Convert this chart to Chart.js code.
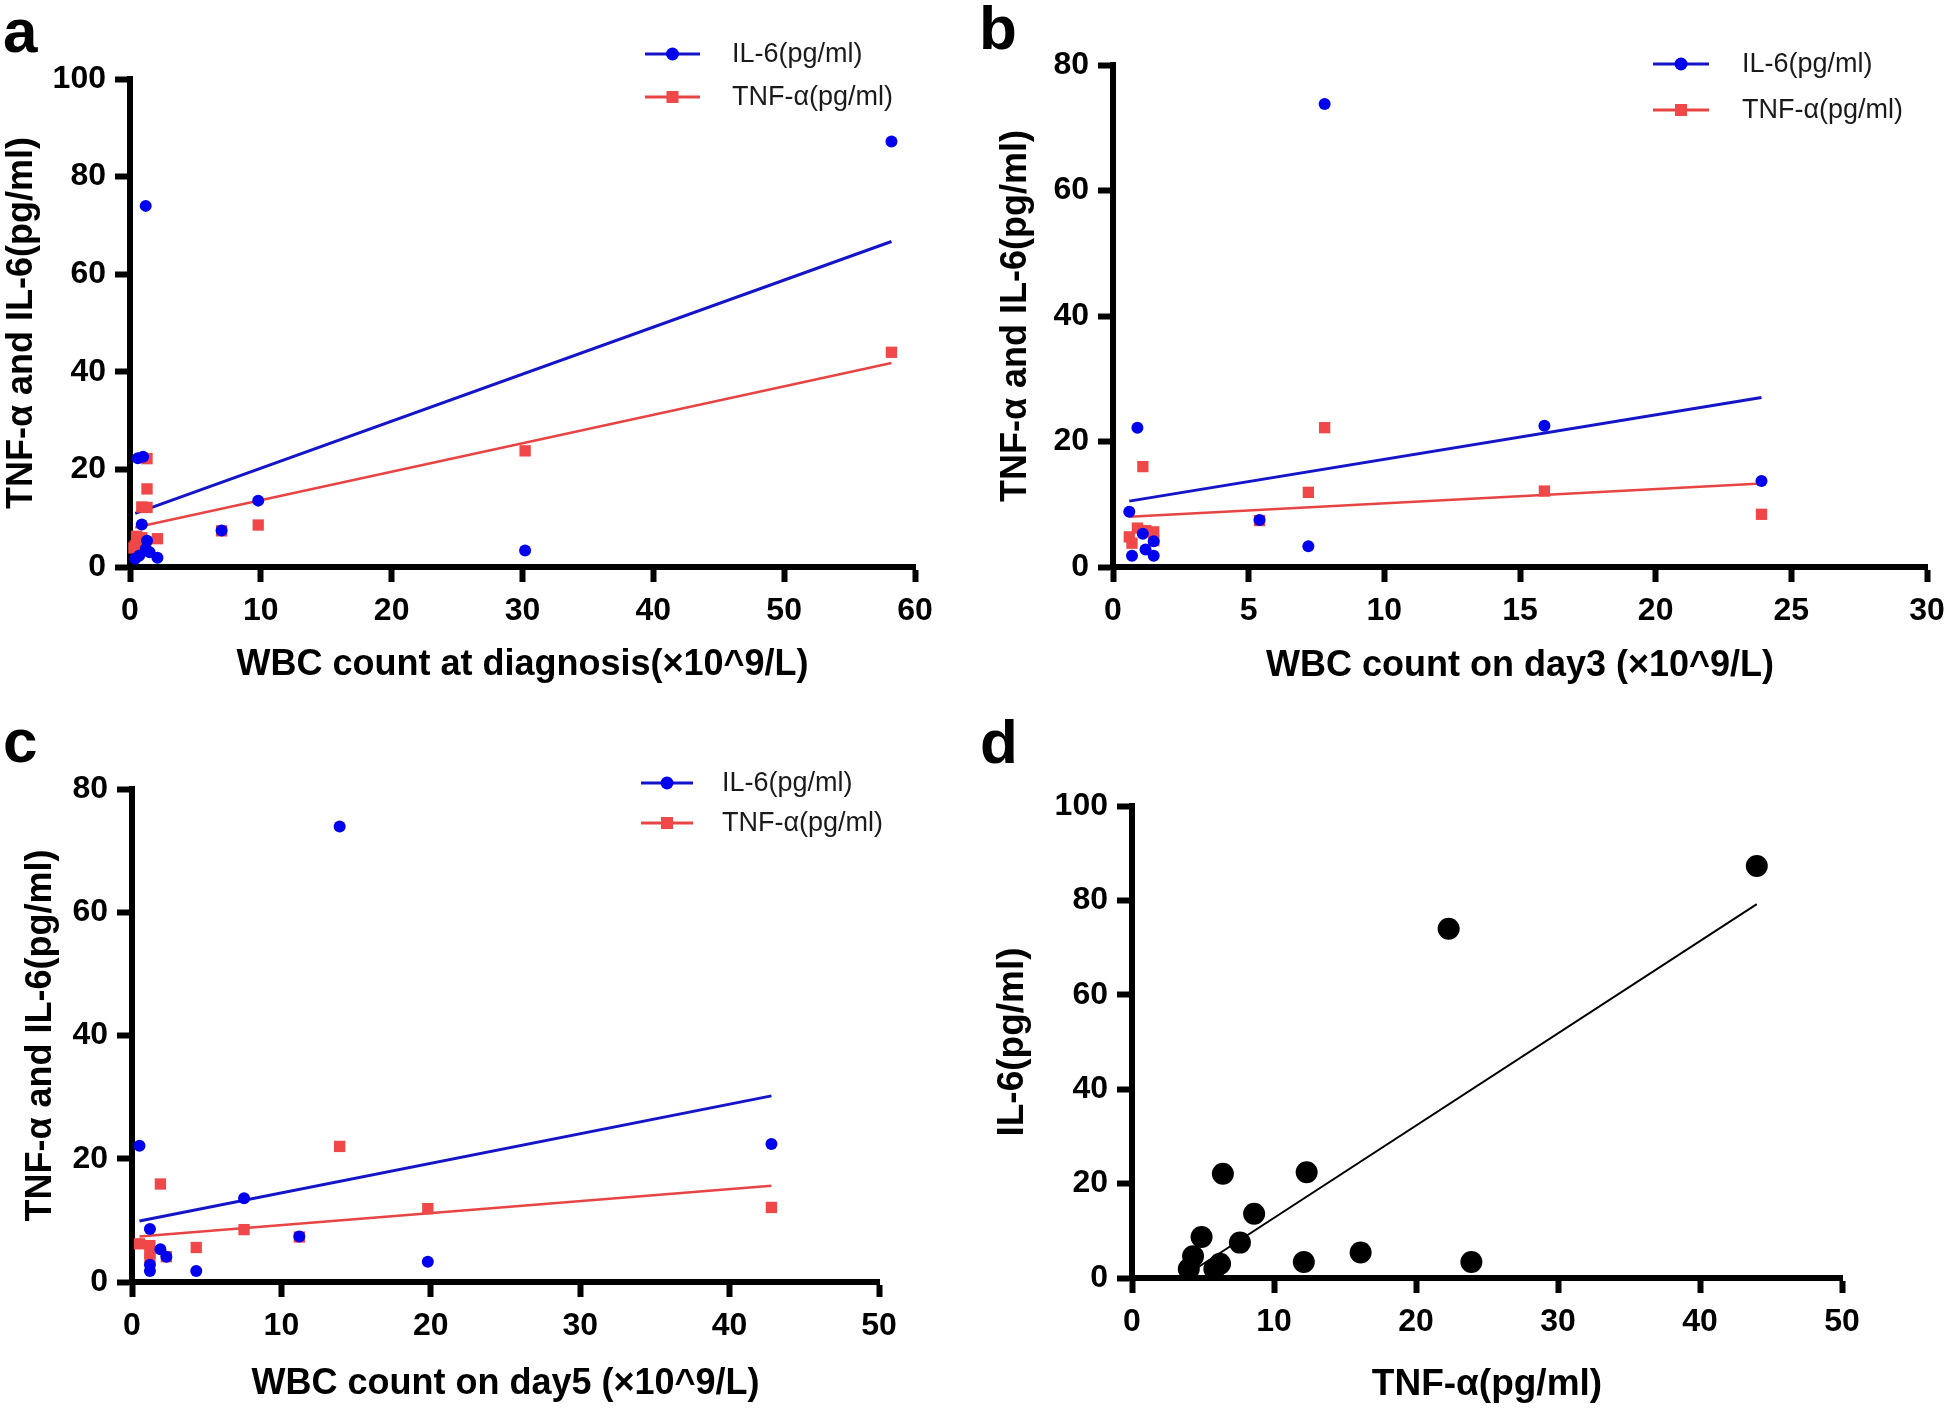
<!DOCTYPE html>
<html>
<head>
<meta charset="utf-8">
<script src="https://cdn.jsdelivr.net/npm/chart.js@4.4.1/dist/chart.umd.min.js"></script>
<style>
  html, body { margin: 0; padding: 0; background: #fff; overflow: hidden; }
  #wrap { position: relative; width: 1944px; height: 1411px; background: #fff; overflow: hidden; }
  canvas { position: absolute; }
</style>
</head>
<body>
<div id="wrap">
  <canvas id="chartA" width="972" height="700" style="left:0;top:0"></canvas>
  <canvas id="chartB" width="1010" height="700" style="left:972px;top:0"></canvas>
  <canvas id="chartC" width="972" height="711" style="left:0;top:700px"></canvas>
  <canvas id="chartD" width="972" height="711" style="left:972px;top:700px"></canvas>
</div>
<script>
'use strict';

const IL6_LABEL = 'IL-6(pg/ml)';
const TNF_LABEL = 'TNF-\u03b1(pg/ml)';

// panel a: WBC count at diagnosis
const diagWbcIL6 = [58.2, 1.2, 1.0, 0.6, 9.8, 0.9, 7.0, 1.3, 1.2, 1.5, 0.7, 0.4, 2.1, 30.2];
const diagIL6    = [87.2, 74.0, 22.6, 22.3, 13.6, 8.7, 7.5, 5.4, 3.7, 3.0, 2.3, 1.7, 1.9, 3.4];
const diagWbcTNF = [58.2, 30.2, 1.3, 1.3, 0.9, 1.3, 9.8, 7.0, 2.1, 0.5, 0.9, 0.4, 0.3, 1.2];
const diagTNF    = [44.0, 23.8, 22.2, 16.0, 12.3, 12.2, 8.6, 7.4, 5.8, 6.3, 6.0, 4.3, 3.9, 5.2];
const diagFitX   = [0.4, 58.2];
const diagFitIL6 = [11.0, 66.7];
const diagFitTNF = [8.1, 41.8];

// panel b: WBC count on day 3
const day3WbcIL6 = [7.8, 0.9, 15.9, 23.9, 0.6, 5.4, 7.2, 1.1, 1.5, 1.2, 0.7, 1.5];
const day3IL6    = [73.8, 22.2, 22.5, 13.7, 8.8, 7.5, 3.3, 5.3, 4.1, 2.8, 1.8, 1.8];
const day3WbcTNF = [7.8, 1.1, 7.2, 15.9, 23.9, 5.4, 0.9, 1.2, 1.5, 0.6, 0.7, 1.5];
const day3TNF    = [22.2, 16.0, 11.9, 12.1, 8.4, 7.4, 6.2, 5.8, 5.6, 4.8, 3.8, 4.2];
const day3FitX   = [0.6, 23.9];
const day3FitIL6 = [10.5, 27.0];
const day3FitTNF = [8.0, 13.3];

// panel c: WBC count on day 5
const day5WbcIL6 = [13.9, 0.5, 42.8, 7.5, 1.2, 11.2, 1.9, 2.3, 19.8, 1.2, 1.2, 4.3];
const day5IL6    = [73.9, 22.1, 22.4, 13.6, 8.6, 7.4, 5.3, 4.1, 3.3, 2.8, 1.8, 1.8];
const day5WbcTNF = [13.9, 1.9, 19.8, 42.8, 7.5, 4.3, 11.2, 0.5, 1.2, 1.2, 1.2, 2.3];
const day5TNF    = [22.0, 15.9, 11.9, 12.1, 8.5, 5.6, 7.3, 6.2, 5.9, 4.7, 4.0, 4.1];
const day5FitX   = [0.5, 42.8];
const day5FitIL6 = [9.9, 30.2];
const day5FitTNF = [7.4, 15.6];

// panel d: IL-6 against TNF-a
const pairTNF = [4.0, 4.3, 4.9, 5.8, 6.2, 6.4, 7.6, 8.6, 12.1, 12.3, 16.1, 22.3, 23.9, 44.0];
const pairIL6 = [1.9, 4.6, 8.7, 1.9, 3.0, 22.1, 7.5, 13.6, 3.4, 22.4, 5.4, 74.0, 3.4, 87.3];
const pairFitX = [4.0, 44.0];
const pairFitY = [1.0, 79.2];

const FONT = '"Liberation Sans", Arial, sans-serif';
const BLUE = '#0000ee';
const BLUE_LINE = '#1414c8';
const RED = '#f04848';
const RED_LINE = '#e84444';

function pts(xs, ys) {
    return xs.map((x, i) => ({x: x, y: ys[i]}));
}

// Draws the panel letter and the line+marker legend.
const panelDecor = {
    id: 'panelDecor',
    afterDraw(chart, args, opts) {
        const ctx = chart.ctx;
        ctx.save();
        ctx.fillStyle = '#000';
        ctx.font = 'bold 62px ' + FONT;
        ctx.textAlign = 'left';
        ctx.textBaseline = 'alphabetic';
        ctx.fillText(opts.letter, opts.letterX, opts.letterY);

        if (opts.legend) {
            const lg = opts.legend;
            lg.items.forEach((item, i) => {
                const y = lg.rows[i];
                ctx.strokeStyle = item.line;
                ctx.lineWidth = 3;
                ctx.beginPath();
                ctx.moveTo(lg.x1, y);
                ctx.lineTo(lg.x2, y);
                ctx.stroke();
                const mx = (lg.x1 + lg.x2) / 2;
                ctx.fillStyle = item.color;
                if (item.shape == 'circle') {
                    ctx.beginPath();
                    ctx.arc(mx, y, 6.5, 0, Math.PI * 2);
                    ctx.fill();
                } else {
                    ctx.fillRect(mx - 6, y - 6, 12, 12);
                }
                ctx.fillStyle = '#1a1a1a';
                ctx.font = '27px ' + FONT;
                ctx.textBaseline = 'middle';
                ctx.fillText(item.label, lg.textX, y + 1);
            });
        }
        ctx.restore();
    }
};

function axis(max, step, title, titlePad, fitSize, isX, titleSize) {
    return {
        type: 'linear',
        min: 0,
        max: max,
        ticks: {
            stepSize: step,
            color: '#000',
            font: {family: FONT, size: 32, weight: 'bold'},
            padding: isX ? 10 : 9,
        },
        grid: {
            drawOnChartArea: false,
            drawTicks: true,
            tickLength: 15,
            tickWidth: 6,
            tickColor: '#000',
        },
        border: {display: true, width: 6, color: '#000'},
        title: {
            display: true,
            text: title,
            color: '#000',
            font: {family: FONT, size: titleSize || 36, weight: 'bold'},
            padding: isX ? {top: 0, bottom: titlePad} : {top: titlePad, bottom: 0},
        },
        afterFit: isX ? (s) => { s.height = fitSize; } : (s) => { s.width = fitSize; },
    };
}

function pointSet(label, data, color, shape, radius, order) {
    return {
        label: label,
        data: data,
        showLine: false,
        pointStyle: shape,
        pointRadius: radius,
        pointHoverRadius: radius,
        pointBackgroundColor: color,
        pointBorderColor: color,
        pointBorderWidth: 0,
        clip: false,
        order: order,
    };
}

function fitSet(data, color, width, order) {
    return {
        data: data,
        showLine: true,
        borderColor: color,
        borderWidth: width,
        pointRadius: 0,
        fill: false,
        order: order,
    };
}

function makeChart(id, p) {
    const canvas = document.getElementById(id);
    return new Chart(canvas.getContext('2d'), {
        type: 'scatter',
        data: {datasets: p.datasets},
        options: {
            responsive: false,
            animation: false,
            devicePixelRatio: 1,
            layout: {padding: {left: 0, top: p.area.top, right: canvas.width - p.area.right, bottom: 0}},
            scales: {
                x: axis(p.xMax, p.xStep, p.xTitle, p.xTitlePad, canvas.height - p.area.bottom, true, p.titleSize),
                y: axis(p.yMax, p.yStep, p.yTitle, p.yTitlePad, p.area.left, false, p.titleSize),
            },
            plugins: {
                legend: {display: false},
                tooltip: {enabled: false},
                panelDecor: p.decor,
            },
        },
        plugins: [panelDecor],
    });
}

const legendItems = [
    {label: IL6_LABEL, line: BLUE_LINE, color: BLUE, shape: 'circle'},
    {label: TNF_LABEL, line: RED_LINE, color: RED, shape: 'rect'},
];

makeChart('chartA', {
    area: {left: 130, right: 915, top: 79, bottom: 567},
    xMax: 60, xStep: 10, yMax: 100, yStep: 20,
    xTitle: 'WBC count at diagnosis(\u00d710^9/L)', xTitlePad: 13,
    yTitle: 'TNF-\u03b1 and IL-6(pg/ml)', yTitlePad: 0,
    datasets: [
        pointSet(IL6_LABEL, pts(diagWbcIL6, diagIL6), BLUE, 'circle', 6, 0),
        pointSet(TNF_LABEL, pts(diagWbcTNF, diagTNF), RED, 'rect', 8, 1),
        fitSet(pts(diagFitX, diagFitIL6), BLUE_LINE, 3, 2),
        fitSet(pts(diagFitX, diagFitTNF), RED_LINE, 2.5, 3),
    ],
    decor: {letter: 'a', letterX: 3, letterY: 52,
        legend: {x1: 645, x2: 700, textX: 732, rows: [54, 97], items: legendItems}},
});

makeChart('chartB', {
    area: {left: 141, right: 955, top: 65, bottom: 567},
    xMax: 30, xStep: 5, yMax: 80, yStep: 20,
    xTitle: 'WBC count on day3 (\u00d710^9/L)', xTitlePad: 12,
    yTitle: 'TNF-\u03b1 and IL-6(pg/ml)', yTitlePad: 22,
    datasets: [
        pointSet(IL6_LABEL, pts(day3WbcIL6, day3IL6), BLUE, 'circle', 6, 0),
        pointSet(TNF_LABEL, pts(day3WbcTNF, day3TNF), RED, 'rect', 8, 1),
        fitSet(pts(day3FitX, day3FitIL6), BLUE_LINE, 3, 2),
        fitSet(pts(day3FitX, day3FitTNF), RED_LINE, 2.5, 3),
    ],
    decor: {letter: 'b', letterX: 7, letterY: 49,
        legend: {x1: 681, x2: 737, textX: 770, rows: [64, 110], items: legendItems}},
});

makeChart('chartC', {
    area: {left: 132, right: 879, top: 89, bottom: 582},
    xMax: 50, xStep: 10, yMax: 80, yStep: 20,
    xTitle: 'WBC count on day5 (\u00d710^9/L)', xTitlePad: 5,
    yTitle: 'TNF-\u03b1 and IL-6(pg/ml)', yTitlePad: 19,
    datasets: [
        pointSet(IL6_LABEL, pts(day5WbcIL6, day5IL6), BLUE, 'circle', 6, 0),
        pointSet(TNF_LABEL, pts(day5WbcTNF, day5TNF), RED, 'rect', 8, 1),
        fitSet(pts(day5FitX, day5FitIL6), BLUE_LINE, 3, 2),
        fitSet(pts(day5FitX, day5FitTNF), RED_LINE, 2.5, 3),
    ],
    decor: {letter: 'c', letterX: 3, letterY: 62,
        legend: {x1: 641, x2: 693, textX: 722, rows: [83, 123], items: legendItems}},
});

makeChart('chartD', {
    area: {left: 160, right: 870, top: 106, bottom: 578},
    xMax: 50, xStep: 10, yMax: 100, yStep: 20,
    xTitle: 'TNF-\u03b1(pg/ml)', xTitlePad: 4,
    yTitle: 'IL-6(pg/ml)', yTitlePad: 19,
    titleSize: 37,
    datasets: [
        pointSet('IL-6 vs TNF-\u03b1', pts(pairTNF, pairIL6), '#000', 'circle', 11, 0),
        fitSet(pts(pairFitX, pairFitY), '#000', 2, 1),
    ],
    decor: {letter: 'd', letterX: 8, letterY: 63},
});
</script>
</body>
</html>
